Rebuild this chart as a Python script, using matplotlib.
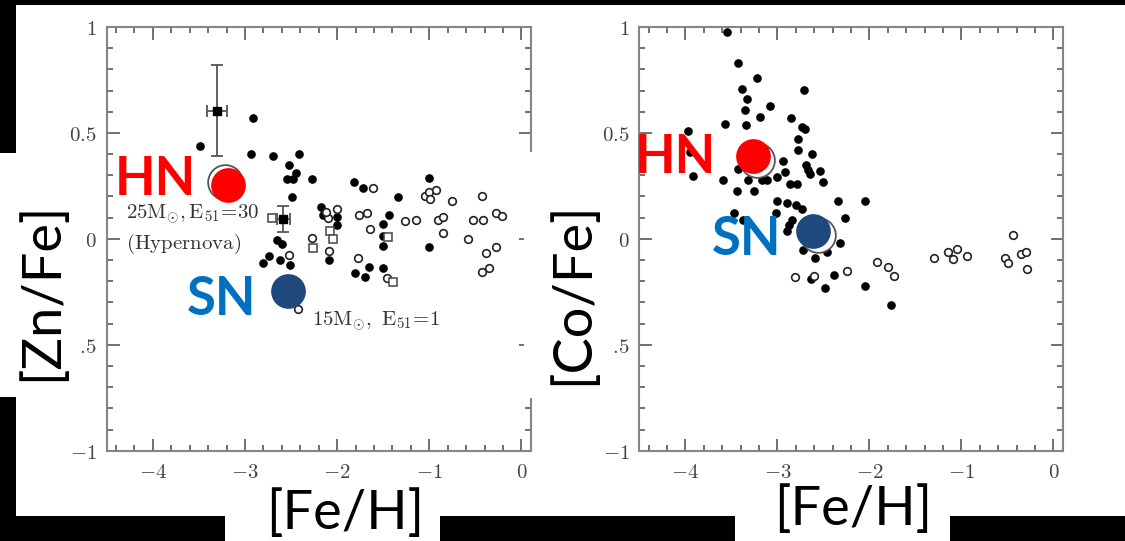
import matplotlib
matplotlib.use('Agg')
import matplotlib.pyplot as plt
from matplotlib.patches import Rectangle
from matplotlib.ticker import MultipleLocator

plt.rcParams['mathtext.fontset'] = 'cm'

# ---------------- data ----------------
x_ticks = [-4, -3, -2, -1, 0]
x_ticklabels = [r'$-4$', r'$-3$', r'$-2$', r'$-1$', r'$0$']
y_ticks = [-1, -0.5, 0, 0.5, 1]
# the "-0" of "-0.5" is hidden behind the axis-title boxes in the reference
y_ticklabels = [r'$-1$', r'$.\!5$', r'$0$', r'$0.5$', r'$1$']

# [Zn/Fe] panel
zn_filled_x = [-3.488, -2.916, -2.934, -2.699, -2.414, -2.519, -2.446, -2.475, -2.547, -2.273,
               -2.493, -1.817, -1.716, -1.336, -1.008, -2.175, -2.150, -1.998, -1.998, -1.434,
               -1.499, -1.499, -1.499, -2.656, -2.601, -2.808, -2.739, -2.620, -2.511, -2.085,
               -1.806, -1.698, -1.651, -1.499, -1.008]
zn_filled_y = [0.440, 0.569, 0.399, 0.391, 0.399, 0.349, 0.309, 0.281, 0.281, 0.281,
               0.199, 0.270, 0.239, 0.199, 0.289, 0.149, 0.113, 0.105, 0.065, 0.113,
               0.070, 0.013, -0.034, -0.005, -0.024, -0.113, -0.081, -0.100, -0.123, -0.100,
               -0.160, -0.182, -0.131, -0.139, -0.039]
zn_open_x = [-1.614, -1.998, -2.096, -1.759, -1.679, -1.643, -2.276, -2.519, -2.085, -1.770,
             -1.456, -2.428, -1.047, -1.008, -0.923, -0.988, -0.756, -0.427, -1.260, -1.144,
             -0.911, -0.853, -0.853, -0.524, -0.420, -0.280, -0.214, -0.582, -0.388, -0.280,
             -0.427, -0.350, -2.120]
zn_open_y = [0.239, 0.139, 0.097, 0.113, 0.121, 0.047, 0.003, -0.076, -0.056, -0.092,
             -0.183, -0.333, 0.203, 0.219, 0.232, 0.187, 0.180, 0.200, 0.083, 0.091,
             0.089, 0.102, 0.029, 0.091, 0.091, 0.121, 0.110, 0.001, -0.069, -0.040,
             -0.158, -0.136, 0.125]
zn_sq_x = [-2.710, -2.077, -2.041, -2.258, -1.445, -1.397]
zn_sq_y = [0.100, 0.038, -0.002, -0.045, 0.007, -0.205]
zn_err_x = [-3.307, -2.584]
zn_err_y = [0.605, 0.094]
zn_err_xerr = [0.11, 0.07]
zn_err_yerr = [0.215, 0.06]

# [Co/Fe] panel
co_filled_x = [-3.550, -3.431, -3.218, -3.388, -3.333, -3.352, -3.080, -3.189, -3.344, -3.569,
               -3.968, -3.949, -3.913, -3.594, -3.431, -3.316, -3.170, -3.109, -3.254, -3.442,
               -2.935, -3.007, -2.917, -2.855, -2.736, -2.700, -2.772, -2.772, -2.627, -2.689,
               -2.664, -2.645, -2.537, -2.501, -2.863, -2.790, -3.007, -2.892, -2.797, -2.736,
               -2.844, -3.018, -2.898, -2.870, -2.338, -2.048, -2.265, -2.319, -2.718, -2.591,
               -2.464, -3.468, -3.370, -2.638, -2.482, -2.381, -2.048, -1.765, -2.712]
co_filled_y = [0.978, 0.829, 0.758, 0.707, 0.659, 0.608, 0.627, 0.577, 0.537, 0.541,
               0.509, 0.411, 0.298, 0.278, 0.330, 0.278, 0.278, 0.278, 0.227, 0.227,
               0.369, 0.293, 0.317, 0.569, 0.529, 0.520, 0.471, 0.419, 0.399, 0.349,
               0.325, 0.306, 0.320, 0.267, 0.259, 0.259, 0.179, 0.168, 0.160, 0.140,
               0.089, 0.124, 0.039, 0.065, 0.179, 0.179, 0.100, -0.020, -0.053, -0.092,
               -0.061, 0.124, 0.089, -0.191, -0.231, -0.172, -0.221, -0.312, 0.702]
co_open_x = [-2.808, -2.598, -2.247, -1.921, -1.801, -1.733, -1.295, -1.143, -1.045, -1.088,
             -0.936, -0.443, -0.527, -0.497, -0.356, -0.299, -0.284]
co_open_y = [-0.182, -0.175, -0.150, -0.111, -0.131, -0.174, -0.092, -0.061, -0.049, -0.096,
             -0.081, 0.018, -0.092, -0.115, -0.071, -0.061, -0.142]

# model yields (HN / SN) and their original open symbols
zn_hn = (-3.18, 0.252)
zn_hn_ring = (-3.215, 0.268)
zn_sn = (-2.53, -0.247)
co_hn = (-3.265, 0.392)
co_hn_ring = (-3.221, 0.372)
co_sn = (-2.615, 0.038)
co_sn_ring = (-2.558, 0.018)

# ---------------- figure ----------------
W, H = 1125, 541
fig = plt.figure(figsize=(W / 100, H / 100), dpi=100, facecolor='black')


def fx(px):
    return px / W


def fy(py):
    return 1 - py / H


def white_box(x0, y0, x1, y1, z):
    r = Rectangle((fx(x0), fy(y1)), fx(x1) - fx(x0), fy(y0) - fy(y1),
                  transform=fig.transFigure, facecolor='white', edgecolor='none', zorder=z)
    fig.add_artist(r)


white_box(16, 5, 1125, 516, -1)
white_box(225, 480, 440, 541, -1)
white_box(735, 480, 950, 541, -1)
white_box(0, 153, 79, 397, -1)


def make_axes(x0, x1):
    ax = fig.add_axes([fx(x0), fy(450.7), fx(x1) - fx(x0), fy(27) - fy(450.7)])
    ax.set_xlim(-4.5, 0.1)
    ax.set_ylim(-1, 1)
    ax.set_facecolor('white')
    for s in ax.spines.values():
        s.set_color('#858585')
        s.set_linewidth(1.5)
    ax.set_xticks(x_ticks)
    ax.set_xticklabels(x_ticklabels)
    ax.set_yticks(y_ticks)
    ax.set_yticklabels(y_ticklabels)
    ax.xaxis.set_minor_locator(MultipleLocator(0.2))
    ax.yaxis.set_minor_locator(MultipleLocator(0.1))
    ax.tick_params(which='both', direction='in', top=True, right=True,
                   color='#707070', width=1.4)
    ax.tick_params(which='major', length=9)
    ax.tick_params(which='minor', length=4.5)
    ax.tick_params(axis='x', which='major', pad=8, labelsize=15, labelcolor='#444444')
    ax.tick_params(axis='y', which='major', pad=7, labelsize=15, labelcolor='#444444')
    return ax


ax1 = make_axes(106.7, 530.7)
ax2 = make_axes(639.3, 1062.7)

# left panel
ax1.plot(zn_filled_x, zn_filled_y, 'o', ls='none', ms=5.2, color='black')
ax1.plot(zn_open_x, zn_open_y, 'o', ls='none', ms=5.5, mfc='white', mec='#222222', mew=1.2)
ax1.plot(zn_sq_x, zn_sq_y, 's', ls='none', ms=6, mfc='white', mec='#444444', mew=1.1)
ax1.errorbar(zn_err_x, zn_err_y, xerr=zn_err_xerr, yerr=zn_err_yerr, fmt='s', ms=6,
             color='black', ecolor='#555555', elinewidth=1.3, capsize=4, capthick=1.3)
ax1.plot(*zn_hn_ring, 'o', ms=25, mfc='white', mec='#555555', mew=1.3, zorder=4)
ax1.plot(*zn_hn, 'o', ms=25, color='#FF0000', mec='none', zorder=5)
ax1.plot(*zn_sn, 'o', ms=25, color='#1F497D', mec='none', zorder=5)

# right panel
ax2.plot(co_filled_x, co_filled_y, 'o', ls='none', ms=5.2, color='black')
ax2.plot(co_open_x, co_open_y, 'o', ls='none', ms=5.5, mfc='white', mec='#222222', mew=1.2)
ax2.plot(*co_hn_ring, 'o', ms=25, mfc='white', mec='#555555', mew=1.3, zorder=4)
ax2.plot(*co_sn_ring, 'o', ms=25, mfc='white', mec='#555555', mew=1.3, zorder=4)
ax2.plot(*co_hn, 'o', ms=25, color='#FF0000', mec='none', zorder=5)
ax2.plot(*co_sn, 'o', ms=25, color='#1F497D', mec='none', zorder=5)

# white box of the right axis title, covering the left panel's right spine
white_box(524, 152, 604, 398, 5)

lab = dict(family=['Lato', 'DejaVu Sans'], fontsize=39, color='black', zorder=10)
fig.text(fx(41), fy(291.5), '[Zn/Fe]', rotation=90, ha='center', va='center', **lab)
fig.text(fx(572.5), fy(293.5), '[Co/Fe]', rotation=90, ha='center', va='center', **lab)
fig.text(fx(345), fy(513), '[Fe/H]', ha='center', va='center', **lab)
fig.text(fx(853.5), fy(509), '[Fe/H]', ha='center', va='center', **lab)

big = dict(family=['Lato', 'DejaVu Sans'], fontsize=38, fontweight='bold', zorder=10,
           ha='right', va='baseline')
fig.text(fx(196), fy(195), 'HN', color='#FF0000', **big)
fig.text(fx(256), fy(315), 'SN', color='#0070C0', **big)
fig.text(fx(716), fy(173), 'HN', color='#FF0000', **big)
fig.text(fx(781), fy(255), 'SN', color='#0070C0', **big)

ann = dict(fontsize=15, color='#333333', ha='left', va='baseline', zorder=10)
fig.text(fx(126), fy(218.5), r'$\mathrm{25M_{\odot},E_{51}\!=\!30}$', **ann)
fig.text(fx(126), fy(249), r'$\mathrm{(Hypernova)}$', **ann)
fig.text(fx(312), fy(326), r'$\mathrm{15M_{\odot},\ E_{51}\!=\!1}$', **ann)

fig.savefig('out.png', dpi=100, facecolor='black')
